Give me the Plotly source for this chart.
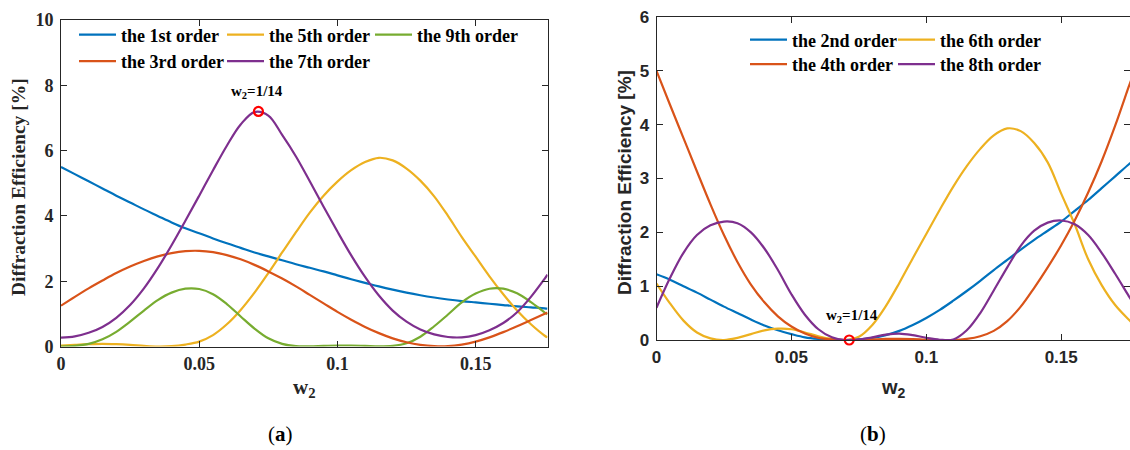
import plotly.graph_objects as go

# ---------------- data ----------------
w2 = [0.000, 0.005, 0.010, 0.015, 0.020, 0.025, 0.030, 0.035, 0.040, 0.045,
      0.050, 0.055, 0.060, 0.065, 0.070, 0.075, 0.080, 0.085, 0.090, 0.095,
      0.100, 0.105, 0.110, 0.115, 0.120, 0.125, 0.130, 0.135, 0.140, 0.145,
      0.150, 0.155, 0.160, 0.165, 0.170, 0.175, 0.176]

# panel (a): odd orders
order1 = [5.50, 5.28, 5.06, 4.84, 4.62, 4.41, 4.20, 4.00, 3.80, 3.62,
          3.47, 3.31, 3.16, 3.02, 2.88, 2.76, 2.64, 2.52, 2.41, 2.30,
          2.18, 2.06, 1.95, 1.84, 1.74, 1.65, 1.57, 1.50, 1.44, 1.39,
          1.35, 1.31, 1.27, 1.23, 1.20, 1.17, 1.16]
order3 = [1.25, 1.52, 1.78, 2.02, 2.25, 2.45, 2.62, 2.76, 2.86, 2.92,
          2.93, 2.89, 2.80, 2.67, 2.50, 2.30, 2.08, 1.84, 1.58, 1.32,
          1.06, 0.82, 0.60, 0.41, 0.25, 0.13, 0.05, 0.01, 0.01, 0.06,
          0.15, 0.28, 0.44, 0.62, 0.81, 1.00, 1.04]
order5 = [0.03, 0.05, 0.07, 0.08, 0.07, 0.05, 0.02, 0.00, 0.01, 0.06,
          0.15, 0.35, 0.68, 1.12, 1.65, 2.25, 2.88, 3.50, 4.10, 4.62,
          5.05, 5.40, 5.65, 5.78, 5.70, 5.45, 5.08, 4.60, 4.00, 3.35,
          2.75, 2.15, 1.60, 1.10, 0.68, 0.33, 0.28]
order7 = [0.27, 0.31, 0.42, 0.60, 0.88, 1.27, 1.78, 2.40, 3.10, 3.85,
          4.62, 5.40, 6.15, 6.80, 7.18, 7.07, 6.48, 5.82, 5.06, 4.28,
          3.52, 2.79, 2.13, 1.56, 1.10, 0.76, 0.52, 0.37, 0.29, 0.28,
          0.35, 0.50, 0.72, 1.05, 1.52, 2.08, 2.20]
order9 = [0.00, 0.02, 0.08, 0.22, 0.45, 0.76, 1.10, 1.42, 1.65, 1.77,
          1.76, 1.60, 1.30, 0.92, 0.55, 0.25, 0.08, 0.01, 0.005, 0.02,
          0.03, 0.03, 0.02, 0.005, 0.02, 0.10, 0.30, 0.62, 0.98, 1.35,
          1.62, 1.77, 1.77, 1.63, 1.36, 1.04, 0.99]

# panel (b): even orders
order2 = [1.22, 1.12, 1.00, 0.88, 0.75, 0.62, 0.50, 0.38, 0.27, 0.18,
          0.11, 0.05, 0.02, 0.005, 0.00, 0.01, 0.04, 0.09, 0.17, 0.28,
          0.41, 0.56, 0.73, 0.91, 1.10, 1.30, 1.49, 1.68, 1.86, 2.03,
          2.20, 2.40, 2.60, 2.82, 3.04, 3.26, 3.30]
order4 = [5.00, 4.37, 3.75, 3.13, 2.52, 1.95, 1.45, 1.03, 0.70, 0.44,
          0.25, 0.12, 0.04, 0.01, 0.00, 0.00, 0.01, 0.02, 0.02, 0.015,
          0.005, 0.00, 0.00, 0.02, 0.07, 0.17, 0.35, 0.62, 0.97, 1.35,
          1.76, 2.22, 2.74, 3.32, 3.98, 4.70, 4.84]
order6 = [1.05, 0.68, 0.36, 0.14, 0.03, 0.00, 0.04, 0.11, 0.18, 0.21,
          0.20, 0.14, 0.07, 0.02, 0.00, 0.06, 0.28, 0.63, 1.06, 1.52,
          1.97, 2.42, 2.85, 3.23, 3.55, 3.80, 3.93, 3.88, 3.66, 3.30,
          2.72, 2.15, 1.50, 1.02, 0.65, 0.38, 0.33]
order8 = [0.60, 1.15, 1.62, 1.95, 2.13, 2.20, 2.17, 2.00, 1.70, 1.30,
          0.85, 0.47, 0.20, 0.05, 0.00, 0.01, 0.05, 0.10, 0.12, 0.09,
          0.04, 0.005, 0.01, 0.18, 0.50, 0.92, 1.35, 1.75, 2.03, 2.18,
          2.22, 2.15, 1.95, 1.62, 1.23, 0.82, 0.74]

mark_a = (1 / 14, 7.2)
mark_b = (1 / 14, 0.0)

names_a = ["the 1st order", "the 3rd order", "the 5th order", "the 7th order", "the 9th order"]
names_b = ["the 2nd order", "the 4th order", "the 6th order", "the 8th order"]
xticks = [0, 0.05, 0.1, 0.15]
xticktext = ["0", "0.05", "0.1", "0.15"]

BLUE, RED, YEL, PUR, GRN = "#0072BD", "#D95319", "#EDB120", "#7E2F8E", "#77AC30"
SERIF = "Liberation Serif"
SANS = "Liberation Sans"
AX = "#262626"

W, H = 1130, 450
fig = go.Figure()

def add(x, y, name, color, xa, ya, leg, last=False):
    fig.add_trace(go.Scatter(x=x, y=y, name=name, mode="lines",
                             line=dict(color=color, width=2.2, shape="spline"),
                             xaxis=xa, yaxis=ya, legend=leg,
                             legendwidth=(115 if last else None)))

# panel a: legend rows (1st,5th,9th) / (3rd,7th)
add(w2, order1, names_a[0], BLUE, "x", "y", "legend")
add(w2, order5, names_a[2], YEL, "x", "y", "legend")
add(w2, order9, names_a[4], GRN, "x", "y", "legend", last=True)
add(w2, order3, names_a[1], RED, "x", "y", "legend2")
add(w2, order7, names_a[3], PUR, "x", "y", "legend2", last=True)
# panel b
add(w2, order2, names_b[0], BLUE, "x2", "y2", "legend3")
add(w2, order6, names_b[2], YEL, "x2", "y2", "legend3", last=True)
add(w2, order4, names_b[1], RED, "x2", "y2", "legend4")
add(w2, order8, names_b[3], PUR, "x2", "y2", "legend4", last=True)

for (mx, my), xa, ya in [(mark_a, "x", "y"), (mark_b, "x2", "y2")]:
    fig.add_trace(go.Scatter(x=[mx], y=[my], mode="markers", showlegend=False,
                             marker=dict(symbol="circle-open", size=9, color="#FF0000",
                                         line=dict(width=2.2, color="#FF0000")),
                             xaxis=xa, yaxis=ya, cliponaxis=False))

def px_x(p):
    return p / W

def px_y(p):
    return 1 - p / H

axis_common = dict(showgrid=False, zeroline=False, showline=True, linecolor=AX, linewidth=1,
                   mirror="ticks", ticks="inside", ticklen=6, tickcolor=AX, tickwidth=1,
                   automargin=False)

fig.update_layout(
    width=W, height=H, margin=dict(l=0, r=0, t=0, b=0, autoexpand=False),
    paper_bgcolor="white", plot_bgcolor="white",
    xaxis=dict(domain=[px_x(61), px_x(547.5)], range=[0, 0.176], tickvals=xticks, ticktext=xticktext,
               anchor="y", ticklabelstandoff=1,
               tickfont=dict(family=SERIF, size=18, color=AX, weight="bold"), **axis_common),
    yaxis=dict(domain=[px_y(346.5), px_y(20)], range=[0, 10], dtick=2, anchor="x",
               ticklabelstandoff=3,
               tickfont=dict(family=SERIF, size=18, color=AX, weight="bold"), **axis_common),
    xaxis2=dict(domain=[px_x(656.5), 1.0], range=[0, 0.1755], tickvals=xticks, ticktext=xticktext,
                anchor="y2", ticklabelstandoff=2,
                tickfont=dict(family=SANS, size=17, color=AX, weight="bold"), **axis_common),
    yaxis2=dict(domain=[px_y(340), px_y(17)], range=[0, 6], dtick=1, anchor="x2",
                ticklabelstandoff=3,
                tickfont=dict(family=SANS, size=17, color=AX, weight="bold"), **axis_common),
)

leg_common = dict(orientation="h", xanchor="left", yanchor="middle", bgcolor="rgba(0,0,0,0)",
                  font=dict(family=SERIF, size=18, color="#000000", weight="bold"),
                  entrywidthmode="pixels", entrywidth=96, itemwidth=37,
                  itemclick=False, itemdoubleclick=False)
fig.update_layout(
    legend=dict(x=px_x(74), y=px_y(35), **leg_common),
    legend2=dict(x=px_x(74), y=px_y(61.5), **leg_common),
    legend3=dict(x=px_x(745), y=px_y(40), **leg_common),
    legend4=dict(x=px_x(745), y=px_y(64.5), **leg_common),
)

def label(text, x, y, font, angle=0, xref="paper", yref="paper"):
    return dict(text=text, x=x, y=y, xref=xref, yref=yref, xanchor="center", yanchor="middle",
                textangle=angle, showarrow=False, font=font)

ann = [
    label("Diffraction Efficiency [%]", px_x(18), px_y(187),
          dict(family=SERIF, size=19.5, color=AX, weight="bold"), angle=-90),
    label("Diffraction Efficiency [%]", px_x(624), px_y(183),
          dict(family=SANS, size=19, color=AX, weight="bold"), angle=-90),
    label("w<sub>2</sub>", px_x(304), px_y(388), dict(family=SERIF, size=21, color=AX, weight="bold")),
    label("w<sub>2</sub>", px_x(893), px_y(388), dict(family=SANS, size=20, color=AX, weight="bold")),
    label("(<b>a</b>)", px_x(280), px_y(434), dict(family=SERIF, size=21, color="#000000")),
    label("(<b>b</b>)", px_x(873), px_y(434), dict(family=SERIF, size=21, color="#000000")),
    label("w<sub>2</sub>=1/14", 0.0709, 7.8, dict(family=SERIF, size=15, color="#000000", weight="bold"),
          xref="x", yref="y"),
    label("w<sub>2</sub>=1/14", 0.0724, 0.45, dict(family=SERIF, size=15, color="#000000", weight="bold"),
          xref="x2", yref="y2"),
]
fig.update_layout(annotations=ann)

fig.write_html("out.html")
